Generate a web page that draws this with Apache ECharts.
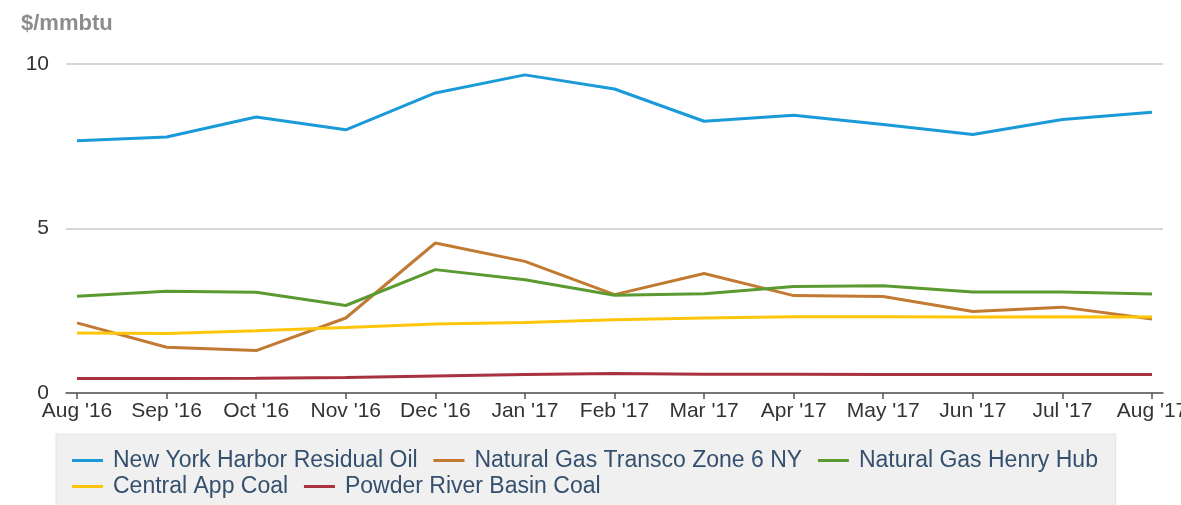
<!DOCTYPE html>
<html>
<head>
<meta charset="utf-8">
<script src="https://cdn.jsdelivr.net/npm/echarts@6/dist/echarts.min.js"></script>
<style>
html, body { margin: 0; padding: 0; background: #fff; }
#chart { width: 1181px; height: 505px; }
</style>
</head>
<body>
<div id="chart"></div>
<script>
// months on the x axis
const months = ["Aug '16", "Sep '16", "Oct '16", "Nov '16", "Dec '16", "Jan '17", "Feb '17",
  "Mar '17", "Apr '17", "May '17", "Jun '17", "Jul '17", "Aug '17"];

const nyResidOil = [7.67, 7.78, 8.39, 8.0, 9.12, 9.67, 9.24, 8.26, 8.44, 8.16, 7.86, 8.31, 8.53];
const transcoZ6 = [2.13, 1.39, 1.29, 2.28, 4.56, 4.0, 2.99, 3.63, 2.96, 2.93, 2.48, 2.61, 2.25];
const henryHub = [2.94, 3.09, 3.06, 2.66, 3.75, 3.44, 2.97, 3.02, 3.24, 3.26, 3.07, 3.07, 3.01];
const centralApp = [1.82, 1.81, 1.89, 1.99, 2.1, 2.14, 2.23, 2.28, 2.32, 2.32, 2.31, 2.32, 2.31];
const powderRiver = [0.44, 0.44, 0.45, 0.47, 0.52, 0.56, 0.59, 0.57, 0.57, 0.56, 0.56, 0.56, 0.56];

const yTicks = [0, 5, 10];

const font = '"Liberation Sans", Arial, sans-serif';
const idx = months.map((m, i) => i);

function line(name, vals, color) {
  return {
    name: name,
    type: 'line',
    data: vals.map((v, i) => [i, v]),
    symbol: 'none',
    lineStyle: { color: color, width: 3 },
    itemStyle: { color: color }
  };
}

const chart = echarts.init(document.getElementById('chart'));
chart.setOption({
  animation: false,
  textStyle: { fontFamily: font },
  title: {
    text: '$/mmbtu',
    left: 16,
    top: 8,
    textStyle: { fontFamily: font, fontSize: 22, fontWeight: 'bold', color: '#8c8c8c' }
  },
  grid: { left: 66, right: 18, top: 64, bottom: 112, containLabel: false, outerBoundsMode: 'none' },
  xAxis: {
    type: 'value',
    min: -0.123,
    max: 12.123,
    axisLine: { show: true, lineStyle: { color: '#555', width: 1.5 } },
    axisTick: { show: true, length: 6, customValues: idx, lineStyle: { color: '#555', width: 1.5 } },
    axisLabel: {
      customValues: idx,
      formatter: v => months[Math.round(v)],
      fontFamily: font, fontSize: 21, color: '#333', margin: 8
    },
    splitLine: { show: false }
  },
  yAxis: {
    type: 'value',
    min: 0,
    max: 10,
    interval: 5,
    axisLine: { show: false },
    axisTick: { show: false },
    axisLabel: {
      fontFamily: font, fontSize: 21, color: '#333', margin: 17,
      formatter: v => yTicks.includes(v) ? String(v) : ''
    },
    splitLine: { lineStyle: { color: '#c8c8c8', width: 1.5 } }
  },
  legend: {
    left: 56,
    top: 434,
    width: 1070,
    padding: [15, 5, 12, 16],
    icon: 'rect',
    itemWidth: 31,
    itemHeight: 3,
    itemGap: 3,
    formatter: name => name + '  ',
    backgroundColor: '#f0f0f0',
    borderColor: '#e4e4e4',
    borderWidth: 1,
    textStyle: { fontFamily: font, fontSize: 23, color: '#34506e', padding: [0, 0, 0, 5] }
  },
  series: [
    line('New York Harbor Residual Oil', nyResidOil, '#1a9ad9'),
    line('Natural Gas Transco Zone 6 NY', transcoZ6, '#c27a32'),
    line('Natural Gas Henry Hub', henryHub, '#5b9a30'),
    line('Central App Coal', centralApp, '#ffc50b'),
    line('Powder River Basin Coal', powderRiver, '#a8323f')
  ]
});
</script>
</body>
</html>
